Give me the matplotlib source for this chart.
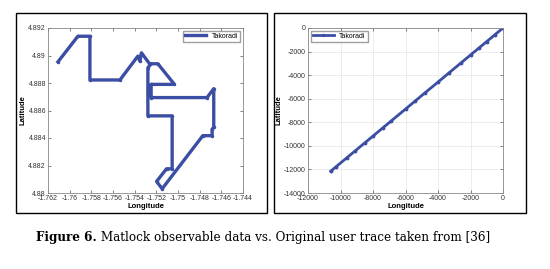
import numpy as np
import matplotlib.pyplot as plt
from matplotlib.patches import Rectangle

# ---- data ----
# left panel: Matlock observable trace (longitude / latitude)
lon_obs = [-1.76108, -1.75924, -1.75813, -1.75813, -1.75536, -1.75371, -1.75352,
           -1.75337, -1.75263, -1.75186, -1.75033, -1.75248, -1.75248, -1.74732,
           -1.74670, -1.74670, -1.74685, -1.74685, -1.74771, -1.75146, -1.75198,
           -1.75106, -1.75054, -1.75054, -1.75278, -1.75278, -1.75254]
lat_obs = [4.88954, 4.89140, 4.89140, 4.88822, 4.88822, 4.88995, 4.88959,
           4.89019, 4.88940, 4.88940, 4.88790, 4.88790, 4.88694, 4.88694,
           4.88759, 4.88477, 4.88465, 4.88417, 4.88417, 4.88031, 4.88084,
           4.88176, 4.88176, 4.88561, 4.88561, 4.88911, 4.88935]

# right panel: original user trace
lon_orig = [-10600, -10300, -9600, -9100, -8500, -8000, -7400, -6900, -6000, -5400,
            -4800, -4000, -3300, -2600, -2000, -1500, -1000, -500, 0]
lat_orig = [-12150, -11800, -11000, -10430, -9740, -9170, -8480, -7910, -6880, -6190,
            -5500, -4590, -3780, -2980, -2290, -1720, -1150, -570, 0]

series_name = "Takoradi"
caption_bold = "Figure 6."
caption_rest = " Matlock observable data vs. Original user trace taken from [36]"

xt_left = [-1.762, -1.76, -1.758, -1.756, -1.754, -1.752, -1.75, -1.748, -1.746, -1.744]
yt_left = [4.88, 4.882, 4.884, 4.886, 4.888, 4.89, 4.892]
xt_right = [-12000, -10000, -8000, -6000, -4000, -2000, 0]
yt_right = [-14000, -12000, -10000, -8000, -6000, -4000, -2000, 0]

W, H = 550, 269
fig = plt.figure(figsize=(W / 100, H / 100), dpi=100)
plt.rcParams['font.family'] = ['Liberation Sans', 'DejaVu Sans']

blue = '#3b4ea3'


def px_ax(x0, y0, x1, y1):
    return fig.add_axes([x0 / W, 1 - y1 / H, (x1 - x0) / W, (y1 - y0) / H])


# outer black frames
for fx0, fx1 in [(16, 267), (274, 526)]:
    fig.patches.append(Rectangle((fx0 / W, 1 - 213 / H), (fx1 - fx0) / W, 200 / H,
                                 transform=fig.transFigure, fill=False,
                                 edgecolor='black', linewidth=1.0))


def style(ax, xt, yt, xlim, ylim, fmt):
    ax.set_xlim(*xlim)
    ax.set_ylim(*ylim)
    ax.set_xticks(xt)
    ax.set_yticks(yt)
    ax.set_xticklabels([fmt(v) for v in xt])
    ax.set_yticklabels([fmt(v) for v in yt])
    ax.tick_params(direction='in', length=2, width=0.5, labelsize=5,
                   top=True, right=True, pad=1.5, colors='#555555', labelcolor='#333333')
    for s in ax.spines.values():
        s.set_color('#888888')
        s.set_linewidth(0.6)
    ax.set_xlabel("Longitude", fontsize=5.5, fontweight='bold', labelpad=1)
    ax.set_ylabel("Latitude", fontsize=5.5, fontweight='bold', labelpad=1)


def g(v):
    return f"{v:g}"


ax1 = px_ax(48, 28, 243, 193)
ax1.plot(lon_obs, lat_obs, '-', color=blue, linewidth=2.4, marker='.',
         markersize=3, label=series_name)
style(ax1, xt_left, yt_left, (-1.762, -1.744), (4.88, 4.892), g)
ax1.legend(loc='upper right', fontsize=5, frameon=True, fancybox=False,
           edgecolor='#888888', handlelength=3, borderpad=0.3,
           borderaxespad=0.4, markerscale=0.8)

ax2 = px_ax(308, 28, 503, 193)
ax2.plot(lon_orig, lat_orig, '-', color=blue, linewidth=2.0, marker='.',
         markersize=3.5, label=series_name)
style(ax2, xt_right, yt_right, (-12000, 0), (-14000, 0), lambda v: f"{v:d}")
ax2.grid(True, color='#e0e0e0', linewidth=0.4)
ax2.legend(loc='upper left', fontsize=5, frameon=True, fancybox=False,
           edgecolor='#888888', handlelength=3, borderpad=0.3,
           borderaxespad=0.4, markerscale=0.8)

# caption: bold part + normal part, centred as a whole, fitted to its width
serif = ['DejaVu Serif']
fs = 9.0
t1 = fig.text(0, 0, caption_bold, fontsize=fs, fontweight='bold', family=serif)
t2 = fig.text(0, 0, caption_rest, fontsize=fs, family=serif)
fig.canvas.draw()
r = fig.canvas.get_renderer()
w = t1.get_window_extent(r).width + t2.get_window_extent(r).width
fs = fs * 457 / w
t1.set_fontsize(fs)
t2.set_fontsize(fs)
fig.canvas.draw()
w1 = t1.get_window_extent(r).width
w2 = t2.get_window_extent(r).width
cx, cy = 263, H - 238
x_start = cx - (w1 + w2) / 2
t1.set_position((x_start / W, cy / H))
t2.set_position(((x_start + w1) / W, cy / H))
t1.set_va('center')
t2.set_va('center')

fig.savefig("out.png", dpi=100)
